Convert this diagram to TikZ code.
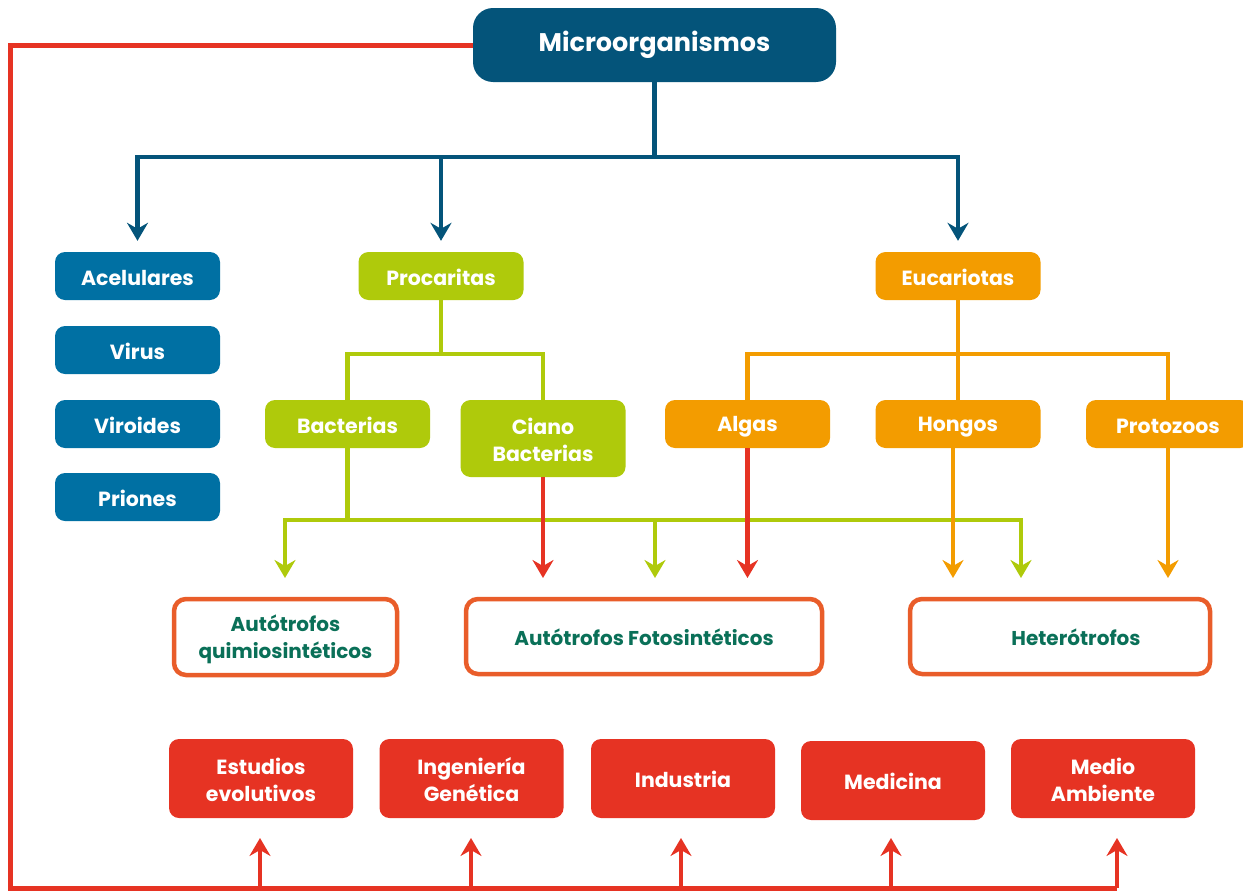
\documentclass[tikz,border=0pt]{standalone}
\usepackage{fontspec}
\setmainfont{Poppins}
\usetikzlibrary{arrows.meta}

\definecolor{navy}{RGB}{4,84,122}
\definecolor{steel}{RGB}{0,112,163}
\definecolor{lime}{RGB}{175,202,11}
\definecolor{amber}{RGB}{243,156,0}
\definecolor{brick}{RGB}{230,51,35}
\definecolor{rim}{RGB}{233,93,42}
\definecolor{inkgreen}{RGB}{10,112,88}

% line strut: fixes the baseline position of every text line
\newcommand\lnstrut{\rule[-3pt]{0pt}{24pt}}

\tikzset{
  box/.style={rounded corners=10pt, inner sep=0pt, align=center, text=white,
    font=\bfseries\fontsize{20.5}{27}\selectfont},
  smallbox/.style={box, minimum width=165pt, minimum height=48pt},
  useitem/.style={box, fill=brick, minimum width=184pt, minimum height=79pt},
  kindbox/.style={rounded corners=12pt, draw=rim, line width=4.5pt, fill=white,
    inner sep=0pt, align=center, text=inkgreen,
    font=\bfseries\fontsize{20}{27}\selectfont},
  link/.style={line width=4.5pt},
  tip/.style={-{Stealth[length=18pt,width=21pt,inset=6pt]}},
}

\begin{document}
\begin{tikzpicture}[x=1pt,y=-1pt]
\useasboundingbox (0,0) rectangle (1243,894);

% root
\node[box, fill=navy, rounded corners=20pt, minimum width=363pt, minimum height=74pt,
      font=\bfseries\fontsize{25.5}{30}\selectfont] (micro) at (654.5,45) {\lnstrut Microorganismos};

% first level
\node[smallbox, fill=steel] (acel) at (137.5,276) {\lnstrut Acelulares};
\node[smallbox, fill=steel] (virus) at (137.5,350) {\lnstrut Virus};
\node[smallbox, fill=steel] (viro) at (137.5,424) {\lnstrut Viroides};
\node[smallbox, fill=steel] (prion) at (137.5,497) {\lnstrut Priones};
\node[smallbox, fill=lime] (proc) at (441,276) {\lnstrut Procaritas};
\node[smallbox, fill=amber] (euca) at (958,276) {\lnstrut Eucariotas};

% second level
\node[smallbox, fill=lime] (bact) at (347.5,424) {\lnstrut Bacterias};
\node[smallbox, fill=lime, minimum height=77pt] (ciano) at (543,438.5) {\lnstrut Ciano\\\lnstrut Bacterias};
\node[smallbox, fill=amber] (algas) at (747.5,424) {\lnstrut Algas};
\node[smallbox, fill=amber] (hongos) at (958,424) {\lnstrut Hongos};
\node[smallbox, fill=amber, minimum width=164pt] (proto) at (1168,424) {\lnstrut Protozoos};

% nutrition types
\node[kindbox, minimum width=223pt, minimum height=76pt] (quim) at (285.5,637) {\lnstrut Autótrofos\\\lnstrut quimiosintéticos};
\node[kindbox, minimum width=356pt, minimum height=75pt] (foto) at (644,636.5) {\lnstrut Autótrofos Fotosintéticos};
\node[kindbox, minimum width=300pt, minimum height=75pt] (hetero) at (1060,636.5) {\hspace*{32pt}\lnstrut Heterótrofos};

% applications
\node[useitem] (evo) at (261,778.5) {\lnstrut Estudios\\\lnstrut evolutivos};
\node[useitem] (inge) at (471.5,778.5) {\lnstrut Ingeniería\\\lnstrut Genética};
\node[useitem] (indu) at (683,778.5) {\lnstrut Industria};
\node[useitem] (medi) at (893,780.5) {\lnstrut Medicina};
\node[useitem] (ambi) at (1103,778.5) {\lnstrut Medio\\\lnstrut Ambiente};

% junctions and arrow ends
\coordinate (bj) at (654.5,157);
\coordinate (pj) at (441,354);
\coordinate (ej) at (958,354);
\coordinate (gj) at (347.5,520);
\coordinate (g1) at (285,578);
\coordinate (g2) at (655,578);
\coordinate (g3) at (1021,578);
\coordinate (r1) at (543,578);
\coordinate (r2) at (747.5,578);
\coordinate (o1top) at (953,448);
\coordinate (o1) at (953,578);
\coordinate (o2) at (1168,578);
\coordinate (fbcorner) at (10,45);
\coordinate (fbbottom) at (10,888);
\coordinate (fbend) at (1117,888);
\coordinate (f1) at (260,888);
\coordinate (f2) at (471,888);
\coordinate (f3) at (681,888);
\coordinate (f4) at (891,888);
\coordinate (f5) at (1117,888);
\coordinate (u1) at (260,838);
\coordinate (u2) at (471,838);
\coordinate (u3) at (681,838);
\coordinate (u4) at (891,838);
\coordinate (u5) at (1117,838);

% main split
\draw[link, navy] (micro.south) -- (bj);
\draw[link, navy, tip] (bj) -| ([yshift=11pt]acel.north);
\draw[link, navy, tip] (bj) -| ([yshift=11pt]proc.north);
\draw[link, navy, tip] (bj) -| ([yshift=11pt]euca.north);

% prokaryotes
\draw[link, lime] (proc.south) -- (pj);
\draw[link, lime] (pj) -| (bact.north);
\draw[link, lime] (pj) -| (ciano.north);

% eukaryotes
\draw[link, amber] (euca.south) -- (ej) -- (hongos.north);
\draw[link, amber] (ej) -| (algas.north);
\draw[link, amber] (ej) -| (proto.north);

% bacteria to nutrition types
\draw[link, lime] (bact.south) -- (gj);
\draw[link, lime, tip] (gj) -| (g1);
\draw[link, lime, tip] (gj) -| (g2);
\draw[link, lime, tip] (gj) -| (g3);

% photosynthesis and heterotrophy
\draw[link, brick, tip] (ciano.south) -- (r1);
\draw[link, brick, tip] (algas.south) -- (r2);
\draw[link, amber, tip] (o1top) -- (o1);
\draw[link, amber, tip] (proto.south) -- (o2);

% feedback to applications
\draw[link, brick, line width=5pt] (micro.west) -- (fbcorner) -- (fbbottom) -- (fbend);
\draw[link, brick, tip] (f1) -- (u1);
\draw[link, brick, tip] (f2) -- (u2);
\draw[link, brick, tip] (f3) -- (u3);
\draw[link, brick, tip] (f4) -- (u4);
\draw[link, brick, tip] (f5) -- (u5);
\end{tikzpicture}
\end{document}
